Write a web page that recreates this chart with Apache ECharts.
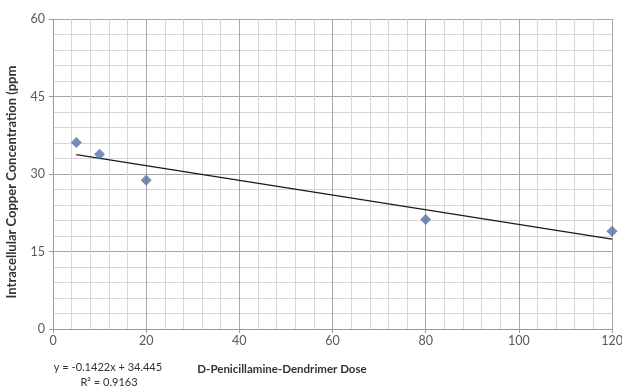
<!DOCTYPE html>
<html>
<head>
<meta charset="utf-8">
<script src="https://cdn.jsdelivr.net/npm/echarts@6/dist/echarts.min.js"></script>
<style>html,body{margin:0;padding:0;background:#fff;}#c{width:622px;height:390px;}</style>
</head>
<body>
<div id="c"></div>
<script>
const doses = [5, 10, 20, 80, 120];
const copper = [36.1, 33.8, 28.8, 21.2, 18.9];
const trendSlope = -0.1422;
const trendIntercept = 34.445;
const trendRange = [5, 120];
const xTicks = [0, 20, 40, 60, 80, 100, 120];
const yTicks = [0, 15, 30, 45, 60];
const eqText = 'y = -0.1422x + 34.445';
const r2Text = 'R² = 0.9163';
const xName = 'D-Penicillamine-Dendrimer Dose';
const yName = 'Intracellular Copper Concentration (ppm';

const chart = echarts.init(document.getElementById('c'), null, {renderer: 'canvas'});
const font = 'Lato, Open Sans, sans-serif';
const trend = trendRange.map(x => [x, trendSlope * x + trendIntercept]);
chart.setOption({
  animation: false,
  backgroundColor: '#fff',
  grid: {left: 53, right: 10, top: 19, bottom: 61, containLabel: false, outerBoundsMode: 'none'},
  xAxis: {
    type: 'value', min: xTicks[0], max: xTicks[xTicks.length-1], interval: 20,
    axisLine: {show: true, lineStyle: {color: '#9a9a9a', width: 1}},
    axisTick: {show: true, length: 4, lineStyle: {color: '#9a9a9a'}},
    axisLabel: {fontFamily: font, fontSize: 12.5, color: '#595959', margin: 5},
    splitLine: {show: true, lineStyle: {color: '#a8a8a8', width: 1}},
    minorTick: {show: false, splitNumber: 5},
    minorSplitLine: {show: true, lineStyle: {color: '#d6d6d6', width: 1}}
  },
  yAxis: {
    type: 'value', min: yTicks[0], max: yTicks[yTicks.length-1], interval: 15,
    axisLine: {show: true, lineStyle: {color: '#9a9a9a', width: 1}},
    axisTick: {show: true, length: 4, lineStyle: {color: '#9a9a9a'}},
    axisLabel: {fontFamily: font, fontSize: 12.5, color: '#595959', margin: 8},
    splitLine: {show: true, lineStyle: {color: '#a8a8a8', width: 1}},
    minorTick: {show: false, splitNumber: 5},
    minorSplitLine: {show: true, lineStyle: {color: '#d6d6d6', width: 1}}
  },
  series: [
    {
      type: 'line', data: trend, showSymbol: false, symbol: 'none',
      lineStyle: {color: '#1a1a1a', width: 1.3}, silent: true, z: 2
    },
    {
      type: 'scatter', data: doses.map((d, i) => [d, copper[i]]),
      symbol: 'diamond', symbolSize: 11,
      itemStyle: {color: '#5371a8'}, z: 3
    }
  ],
  graphic: [
    {type: 'text', x: 108, y: 367, style: {text: eqText, font: '11px ' + font, fill: '#333333', align: 'center', verticalAlign: 'middle'}},
    {type: 'text', x: 109, y: 382, style: {text: r2Text, font: '11px ' + font, fill: '#333333', align: 'center', verticalAlign: 'middle'}},
    {type: 'text', x: 282, y: 369, style: {text: xName, font: 'bold 11.5px ' + font, fill: '#333333', align: 'center', verticalAlign: 'middle'}},
    {type: 'text', x: 12, y: 182, rotation: Math.PI / 2, style: {text: yName, font: 'bold 13px ' + font, fill: '#333333', align: 'center', verticalAlign: 'middle'}}
  ]
});
</script>
</body>
</html>
